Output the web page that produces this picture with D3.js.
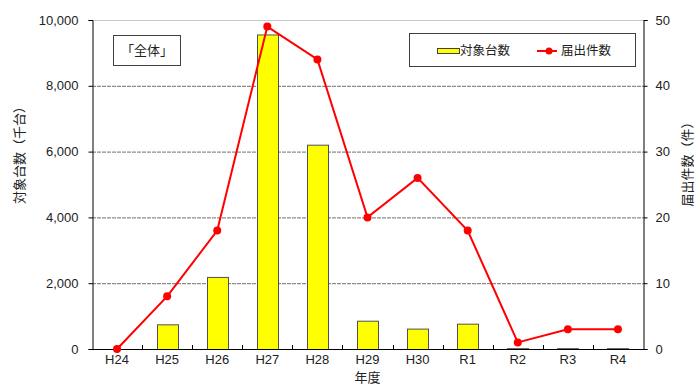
<!DOCTYPE html>
<html>
<head>
<meta charset="utf-8">
<script src="https://cdn.jsdelivr.net/npm/d3@7"></script>
<style>
  html, body { margin: 0; padding: 0; background: #fff; }
  svg { display: block; font-family: "Liberation Sans", Arial, "Noto Sans CJK JP", sans-serif; }
</style>
</head>
<body>
<svg id="chart" width="695" height="385"></svg>
<script>
// 年度別の対象台数（千台）と届出件数（件）
const years = ["H24", "H25", "H26", "H27", "H28", "H29", "H30", "R1", "R2", "R3", "R4"];
const units = [0, 750, 2190, 9560, 6210, 860, 620, 770, 25, 25, 25];      // 対象台数（千台）
const reports = [0, 8, 18, 49, 44, 20, 26, 18, 1, 3, 3];                 // 届出件数（件）
const leftTicks = [0, 2000, 4000, 6000, 8000, 10000];
const rightTicks = [0, 10, 20, 30, 40, 50];

const svg = d3.select("#chart");
const m = { left: 92, right: 643, top: 20, bottom: 349 };
const jp = "'Noto Sans CJK JP', sans-serif";

const x = d3.scaleBand().domain(years).range([m.left, m.right]).paddingInner(0.58).paddingOuter(0.29);
const xc = d3.scaleBand().domain(years).range([m.left, m.right]);
const yL = d3.scaleLinear().domain([0, 10000]).range([m.bottom, m.top]);
const yR = d3.scaleLinear().domain([0, 50]).range([m.bottom, m.top]);

// gridlines
svg.append("g").selectAll("line").data(leftTicks.filter(d => d > 0)).join("line")
  .attr("x1", m.left).attr("x2", m.right)
  .attr("y1", d => yL(d) + 0.5).attr("y2", d => yL(d) + 0.5)
  .attr("stroke", d => d === 10000 ? "#c8c8c8" : "#707070")
  .attr("stroke-width", 1)
  .attr("stroke-dasharray", d => d === 10000 ? null : "4,1");

// bars
svg.append("g").selectAll("rect").data(years).join("rect")
  .attr("x", d => Math.round(x(d)) + 0.5)
  .attr("y", (d, i) => yL(units[i]) + 0.5)
  .attr("width", Math.round(x.bandwidth()))
  .attr("height", (d, i) => Math.max(0, yL(0) - yL(units[i])))
  .attr("fill", "#ffff00")
  .attr("stroke", "#505050")
  .attr("stroke-width", 1);

// left axis
const axL = svg.append("g").attr("transform", `translate(${m.left + 0.5},0)`)
  .call(d3.axisLeft(yL).tickValues(leftTicks).tickSize(4).tickPadding(10).tickFormat(d3.format(",")));
axL.select(".domain").attr("stroke", "#000");
axL.selectAll("text").attr("font-size", 13).attr("fill", "#222")
  .attr("font-family", "'Liberation Sans', Arial, sans-serif");

// right axis
const axR = svg.append("g").attr("transform", `translate(${m.right + 0.5},0)`)
  .call(d3.axisRight(yR).tickValues(rightTicks).tickSize(4).tickPadding(8));
axR.select(".domain").attr("stroke", "#000");
axR.selectAll("text").attr("font-size", 13).attr("fill", "#222")
  .attr("font-family", "'Liberation Sans', Arial, sans-serif");

// bottom axis: ticks point upward at category boundaries
svg.append("line").attr("x1", m.left).attr("x2", m.right + 1)
  .attr("y1", m.bottom + 0.5).attr("y2", m.bottom + 0.5).attr("stroke", "#000");
svg.append("g").selectAll("line").data(years.slice(1)).join("line")
  .attr("x1", d => Math.round(xc(d)) + 0.5).attr("x2", d => Math.round(xc(d)) + 0.5)
  .attr("y1", m.bottom).attr("y2", m.bottom - 4).attr("stroke", "#000");
svg.append("g").selectAll("text").data(years).join("text")
  .attr("x", d => xc(d) + xc.bandwidth() / 2).attr("y", m.bottom + 15)
  .attr("text-anchor", "middle").attr("font-size", 13).attr("fill", "#222")
  .attr("font-family", "'Liberation Sans', Arial, sans-serif")
  .text(d => d);

// line series
const cx = d => xc(d) + xc.bandwidth() / 2;
svg.append("path").datum(years)
  .attr("fill", "none").attr("stroke", "#ff0000").attr("stroke-width", 2)
  .attr("d", d3.line().x(d => cx(d)).y((d, i) => yR(reports[i])));
svg.append("g").selectAll("circle").data(years).join("circle")
  .attr("cx", d => cx(d)).attr("cy", (d, i) => yR(reports[i])).attr("r", 4)
  .attr("fill", "#ff0000");

// axis titles
svg.append("text").attr("transform", "translate(24,152) rotate(-90)")
  .attr("text-anchor", "middle").attr("font-size", 13).attr("fill", "#222")
  .attr("font-family", jp).text("対象台数（千台）");
svg.append("text").attr("transform", "translate(692,161) rotate(-90)")
  .attr("text-anchor", "middle").attr("font-size", 13).attr("fill", "#222")
  .attr("font-family", jp).text("届出件数（件）");
svg.append("text").attr("x", (m.left + m.right) / 2).attr("y", 382)
  .attr("text-anchor", "middle").attr("font-size", 13).attr("fill", "#222")
  .attr("font-family", jp).text("年度");

// 「全体」 label box
svg.append("rect").attr("x", 113.5).attr("y", 35.5).attr("width", 67).attr("height", 30)
  .attr("fill", "#fff").attr("stroke", "#404040");
svg.append("text").attr("x", 147).attr("y", 55).attr("text-anchor", "middle")
  .attr("font-size", 13).attr("fill", "#222").attr("font-family", jp).text("「全体」");

// legend
const lg = svg.append("g");
lg.append("rect").attr("x", 409.5).attr("y", 33.5).attr("width", 226).attr("height", 33)
  .attr("fill", "#fff").attr("stroke", "#404040");
lg.append("rect").attr("x", 437.5).attr("y", 48.5).attr("width", 22).attr("height", 5)
  .attr("fill", "#ffff00").attr("stroke", "#404040");
lg.append("text").attr("x", 460).attr("y", 55).attr("font-size", 12.5).attr("fill", "#222")
  .attr("font-family", jp).text("対象台数");
lg.append("line").attr("x1", 537).attr("x2", 557).attr("y1", 51).attr("y2", 51)
  .attr("stroke", "#ff0000").attr("stroke-width", 2);
lg.append("circle").attr("cx", 549).attr("cy", 51).attr("r", 3.5).attr("fill", "#ff0000");
lg.append("text").attr("x", 561).attr("y", 55).attr("font-size", 12.5).attr("fill", "#222")
  .attr("font-family", jp).text("届出件数");
</script>
</body>
</html>
